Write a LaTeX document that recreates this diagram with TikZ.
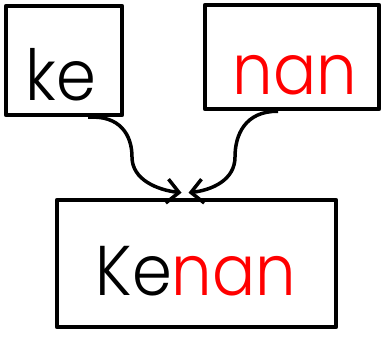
\documentclass[tikz,border=0pt]{standalone}
\usepackage{fontspec}
\setmainfont{Poppins Light}
\usetikzlibrary{arrows.meta}

\begin{document}
\begin{tikzpicture}[x=1pt,y=-1pt,
  wordbox/.style={draw,line width=4.5pt,inner sep=0pt,line join=round},
  word/.style={anchor=base,inner sep=0pt,font=\fontsize{64}{64}\selectfont},
  merge/.style={line width=3.5pt,-{Straight Barb[length=12pt,width=24pt,line width=3.5pt]}}]
\useasboundingbox (0,0) rectangle (385,340);
% boxes
\node[wordbox,minimum width=116pt,minimum height=109pt] (ke) at (64,60.5) {};
\node[wordbox,minimum width=174pt,minimum height=104pt] (nan) at (292,57) {};
\node[wordbox,minimum width=279pt,minimum height=127pt] (kenan) at (196.5,263.5) {};
% words
\node[word] (keWord) at (61,100) {\scalebox{1}[1.1]{ke}};
\node[word,red] (nanWord) at (295,94) {\scalebox{1}[1.1]{nan}};
\node[word] (kenanWord) at (196,295) {\scalebox{1}[1.1]{Ke\textcolor{red}{nan}}};
% arrows
\draw[merge] ([xshift=24pt]ke.south) .. controls (120,115) and (132,135) .. (132,157)
   .. controls (132,180) and (158,190) .. ([xshift=-15pt,yshift=5pt]kenan.north);
\draw[merge] ([xshift=-14pt]nan.south) .. controls (245,111) and (235,135) .. (235,157)
   .. controls (235,180) and (212,190) .. ([xshift=-8pt,yshift=5pt]kenan.north);
\end{tikzpicture}
\end{document}
